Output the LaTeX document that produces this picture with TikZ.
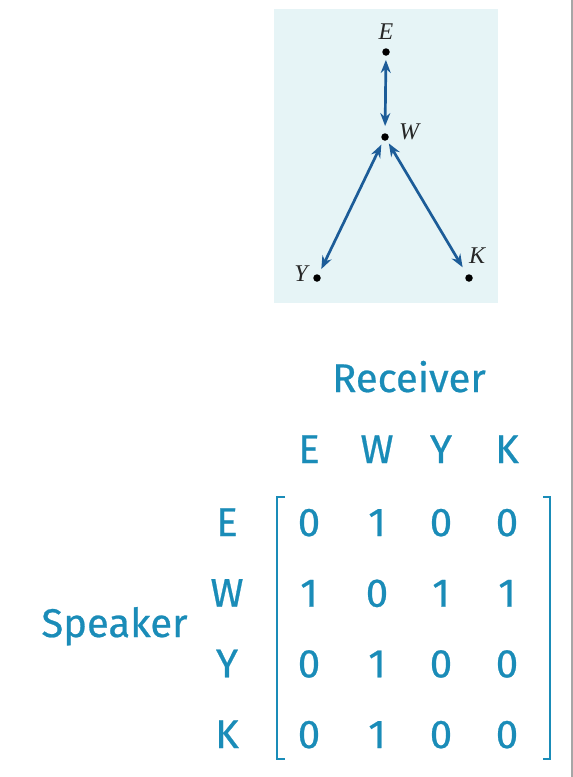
\documentclass[tikz,border=0pt]{standalone}
\usepackage{fontspec}
\setmainfont{Fira Sans}
\newfontfamily\handf{Fira Sans}[FakeBold=0.6]
\newfontfamily\labfont{Liberation Serif}
\usetikzlibrary{arrows.meta}
\definecolor{hand}{HTML}{1A8CB8}
\definecolor{arrblue}{HTML}{1C5C98}
\definecolor{panel}{HTML}{E6F4F6}
\begin{document}
\begin{tikzpicture}[x=1pt,y=-1pt,
  dot/.style={circle,fill=black,inner sep=0pt,minimum size=7.5pt},
  lab/.style={font=\labfont\itshape\fontsize{24}{24}\selectfont,inner sep=0pt,text=black!85},
  arr/.style={draw=arrblue,line width=2.7pt,{Stealth[length=13pt,width=10pt]}-{Stealth[length=13pt,width=10pt]}},
  hw/.style={text=hand,font=\handf\fontsize{40}{40}\selectfont,anchor=base,inner sep=0pt},
  brk/.style={draw=hand,line width=2.2pt}]
\useasboundingbox (0,0) rectangle (573,777);
\fill[white] (0,0) rectangle (573,777);
\fill[panel] (274,9) rectangle (498,303);
\draw[gray!70,line width=1.5pt] (572,0) -- (572,777);
% graph
\node[dot] (E) at (386,52) {};
\node[dot] (W) at (385,137) {};
\node[dot] (Y) at (317,278) {};
\node[dot] (K) at (469,278) {};
\node[lab] (lE) at (386,32) {E};
\node[lab] (lW) at (409,132) {W};
\node[lab] (lY) at (301,274) {Y};
\node[lab] (lK) at (477,256) {K};
\draw[arr,shorten <=4pt,shorten >=7pt] (E) -- (W);
\draw[arr,shorten <=4.5pt,shorten >=6pt] (W) -- (Y);
\draw[arr,shorten <=3.5pt,shorten >=8.5pt] (W) -- (K);
% matrix
\node[hw] (rec) at (409,392) {Receiver};
\node[hw] (spk) at (114.5,637) {Speaker};
\foreach \n/\x in {E/309,W/377,Y/441,K/507}
  \node[hw] (c\n) at (\x,463) {\n};
\foreach \n/\y in {E/536,W/606.7,Y/677.3,K/748}
  \node[hw] (r\n) at (227,\y) {\n};
\foreach \row/\y/\a/\b/\c/\d in {E/536/0/1/0/0,W/606.7/1/0/1/1,Y/677.3/0/1/0/0,K/748/0/1/0/0}{
  \node[hw] (m\row1) at (309,\y) {\a};
  \node[hw] (m\row2) at (377,\y) {\b};
  \node[hw] (m\row3) at (441,\y) {\c};
  \node[hw] (m\row4) at (507,\y) {\d};
}
\draw[brk] (285,497) -- (277,497) -- (277,759) -- (285,759);
\draw[brk] (543,497) -- (550,497) -- (550,759) -- (543,759);
\end{tikzpicture}
\end{document}
